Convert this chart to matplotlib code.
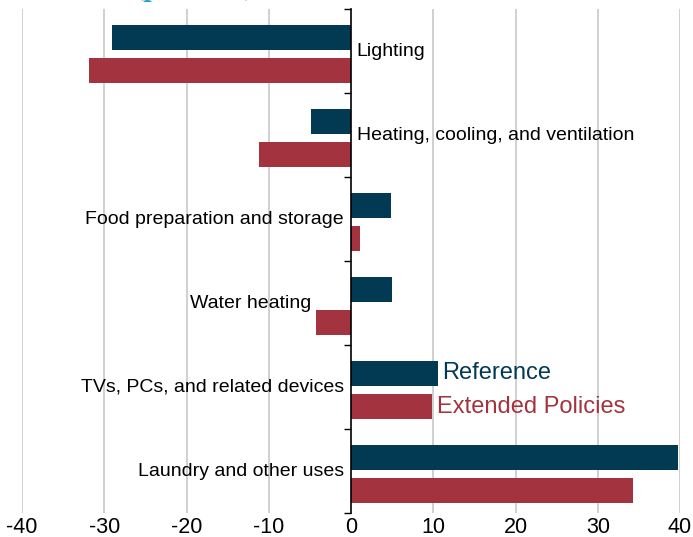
import matplotlib
matplotlib.use("Agg")
import matplotlib.pyplot as plt

categories = ["Lighting", "Heating, cooling, and ventilation", "Food preparation and storage",
              "Water heating", "TVs, PCs, and related devices", "Laundry and other uses"]
reference = [-29.1, -4.9, 4.9, 5.0, 10.6, 39.8]
extended = [-31.9, -11.2, 1.1, -4.3, 9.8, 34.3]
xticks = [-40, -30, -20, -10, 0, 10, 20, 30, 40]

BLUE = "#023a54"
RED = "#a3333f"

plt.rcParams['font.family'] = ['Liberation Sans', 'DejaVu Sans']

fig = plt.figure(figsize=(6.93, 5.37), dpi=100)
ax = fig.add_axes([22/693, 1-513/537, 658/693, 504/537])

ypos = list(range(len(categories)))
ax.barh([y - 0.165 for y in ypos], reference, height=0.3, color=BLUE, zorder=3)
ax.barh([y + 0.235 for y in ypos], extended, height=0.3, color=RED, zorder=3)

ax.set_xlim(-40, 40)
ax.set_ylim(len(categories) - 0.5, -0.5)
ax.set_xticks(xticks)
ax.set_xticklabels([str(v) for v in xticks], fontsize=15.5)
ax.tick_params(axis='x', length=0, pad=3)
for v in xticks:
    if v != 0:
        ax.axvline(v, color="#c4c4c4", lw=1.1, zorder=1)

ax.set_yticks([i - 0.5 for i in range(len(categories) + 1)])
ax.set_yticklabels([])
ax.tick_params(axis='y', length=5, width=1, direction='out', color='black')

for s in ['top', 'right', 'bottom']:
    ax.spines[s].set_visible(False)
ax.spines['left'].set_position(('data', 0))
ax.spines['left'].set_linewidth(1.2)
ax.spines['left'].set_zorder(5)

for i, (cat, r, e) in enumerate(zip(categories, reference, extended)):
    if max(r, e) <= 0:
        ax.annotate(cat, xy=(0, i), xytext=(4, 0), textcoords='offset points',
                    ha='left', va='center', fontsize=14)
    else:
        lo = min(0, r, e)
        off = -5 if lo == 0 else -3
        ax.annotate(cat, xy=(lo, i), xytext=(off, 0), textcoords='offset points',
                    ha='right', va='center', fontsize=14)

ax.annotate("Reference", xy=(reference[4], 4 - 0.165), xytext=(3, 0), textcoords='offset points',
            ha='left', va='center', fontsize=17, color=BLUE)
ax.annotate("Extended Policies", xy=(extended[4], 4 + 0.235), xytext=(4, 0), textcoords='offset points',
            ha='left', va='center', fontsize=17, color=RED)

fig.text(133/693, 1 + 2.5/537, "(percent)", fontsize=17, fontweight='bold', family='DejaVu Serif',
         color="#2a9fd6", va='baseline', ha='left')

fig.savefig("out.png", dpi=100)
